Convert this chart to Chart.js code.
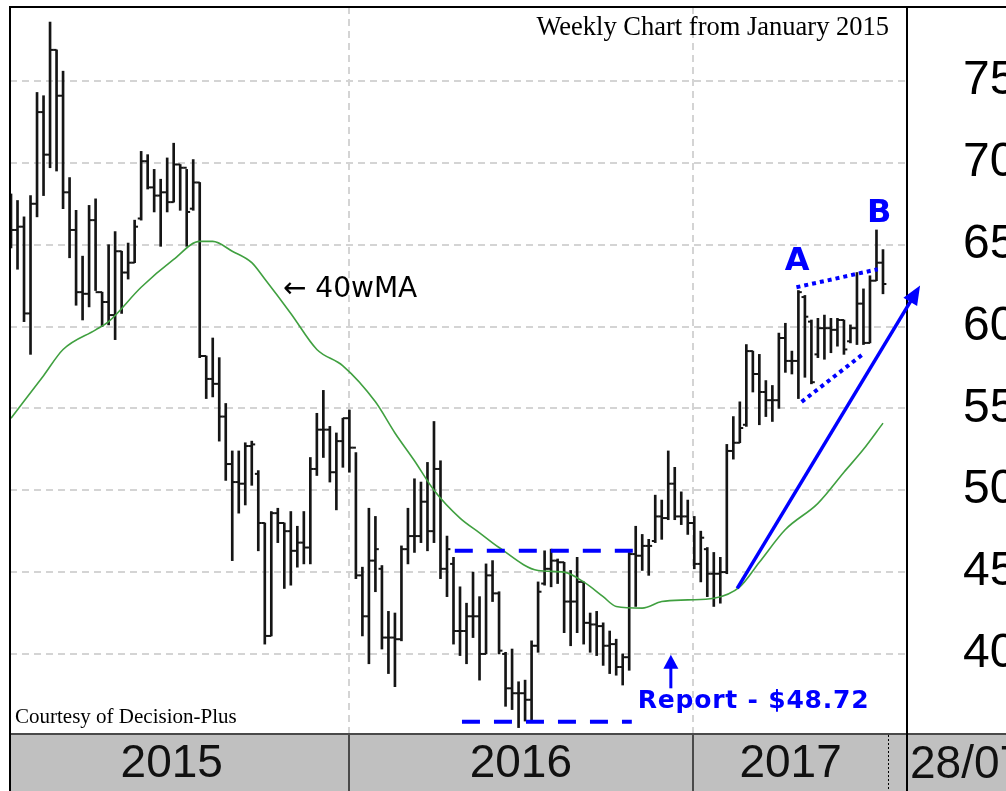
<!DOCTYPE html>
<html>
<head>
<meta charset="utf-8">
<script src="https://cdn.jsdelivr.net/npm/chart.js@4"></script>
<style>
  html, body { margin: 0; padding: 0; background: #fff; }
  #wrap { width: 1006px; height: 791px; }
</style>
</head>
<body>
<div id="wrap"><canvas id="chart" width="1006" height="791"></canvas></div>
<script>
// weekly bars, index 0 = first week shown (Jan 2015)
const highs = [
  68.1, 67.7, 66.7, 68.0, 74.3, 74.1, 78.6, 76.9, 75.6, 69.1,
  67.1, 64.3, 67.4, 67.8, 62.1, 65.0, 65.8, 64.6, 65.1, 66.5,
  70.7, 70.5, 69.6, 69.0, 70.3, 71.2, 69.9, 69.6, 70.2, 68.8,
  58.2, 59.3, 58.1, 55.3, 52.4, 52.4, 52.9, 53.0, 51.2, 48.0,
  48.7, 48.9, 48.0, 48.7, 47.8, 48.7, 52.0, 54.7, 56.1, 53.9,
  53.5, 54.4, 54.9, 52.3, 45.3, 48.9, 48.4, 45.4, 42.6, 42.5,
  46.6, 48.9, 50.7, 50.5, 51.7, 54.2, 51.8, 47.2, 45.9, 44.1,
  43.1, 45.0, 43.5, 45.5, 45.7, 43.8, 40.1, 40.3, 38.3, 38.4,
  40.8, 44.4, 46.3, 46.4, 45.8, 45.6, 45.1, 45.9, 44.4, 42.5,
  42.6, 41.9, 41.4, 40.9, 40.0, 46.2, 47.8, 47.3, 47.0, 49.7,
  49.4, 52.4, 51.4, 49.9, 49.4, 48.4, 47.5, 46.5, 46.2, 45.9,
  52.8, 54.5, 55.4, 58.9, 58.5, 58.3, 56.7, 56.4, 59.6, 60.2,
  58.5, 62.2, 61.9, 60.4, 60.5, 60.7, 60.5, 60.5, 60.4, 60.1,
  63.3, 62.3, 63.1, 65.9, 64.7
];
const lows = [
  64.8, 63.5, 60.3, 58.3, 66.7, 68.0, 69.7, 69.5, 67.2, 64.2,
  61.3, 60.4, 61.2, 62.2, 60.0, 60.1, 59.2, 60.8, 62.9, 63.9,
  66.5, 68.4, 67.0, 64.9, 67.0, 67.6, 67.1, 64.9, 67.1, 58.1,
  55.6, 55.7, 53.0, 50.6, 45.7, 48.6, 49.1, 50.3, 46.3, 40.6,
  41.1, 46.8, 44.0, 44.2, 45.3, 45.5, 45.5, 50.9, 52.0, 50.5,
  48.8, 51.4, 51.1, 44.6, 41.1, 39.4, 43.8, 40.3, 38.8, 38.0,
  40.8, 45.5, 46.2, 46.8, 46.3, 46.8, 44.6, 43.5, 40.6, 39.9,
  39.4, 41.0, 38.4, 40.0, 43.2, 40.0, 36.8, 36.6, 35.5, 35.9,
  35.9, 40.1, 44.2, 44.1, 44.3, 41.3, 40.5, 41.3, 40.6, 40.1,
  39.9, 39.3, 38.8, 38.7, 38.1, 39.0, 42.9, 45.1, 44.8, 46.8,
  47.0, 48.2, 48.2, 47.9, 47.3, 45.2, 44.4, 43.5, 42.9, 43.1,
  44.9, 51.9, 52.9, 53.9, 56.0, 54.0, 54.5, 54.2, 55.0, 57.2,
  57.1, 55.6, 56.9, 56.5, 58.1, 58.0, 58.4, 58.8, 58.3, 59.0,
  58.9, 58.9, 59.0, 62.8, 62.0
];
const opens = [
  67.9, 65.9, 66.1, 60.8, 67.5, 73.1, 70.5, 76.9, 74.1, 68.2,
  65.9, 62.1, 62.0, 66.5, 62.1, 61.5, 60.7, 64.6, 63.3, 63.9,
  66.6, 70.1, 68.5, 68.0, 68.2, 67.6, 69.9, 69.7, 67.2, 68.8,
  58.2, 56.8, 56.5, 54.5, 51.6, 50.5, 50.4, 52.7, 51.0, 48.0,
  41.1, 48.6, 48.0, 47.5, 46.3, 46.8, 46.5, 51.3, 53.7, 53.7,
  51.1, 53.0, 54.4, 52.6, 44.8, 42.3, 45.7, 45.2, 41.0, 41.0,
  40.9, 46.4, 47.2, 47.2, 49.3, 47.5, 51.3, 45.2, 45.5, 41.4,
  41.4, 42.3, 42.3, 40.0, 44.8, 43.7, 40.0, 37.9, 37.6, 37.6,
  37.2, 40.5, 44.3, 45.2, 45.7, 45.6, 43.2, 43.2, 44.4, 41.9,
  41.8, 41.7, 40.5, 40.6, 39.2, 39.8, 46.1, 46.0, 46.6, 46.9,
  48.4, 48.3, 50.4, 48.4, 48.4, 48.0, 45.5, 46.4, 44.9, 44.9,
  45.0, 52.4, 52.9, 54.0, 58.5, 57.1, 56.0, 55.5, 55.5, 59.3,
  57.9, 57.9, 61.8, 60.3, 58.3, 59.9, 59.9, 59.8, 60.4, 59.1,
  59.9, 61.4, 59.0, 62.8, 63.9
];
const closes = [
  65.9, 66.1, 60.8, 67.5, 73.1, 70.5, 76.9, 74.1, 68.2, 65.9,
  62.1, 62.0, 66.5, 62.1, 61.5, 60.7, 64.6, 63.3, 63.9, 66.1,
  70.1, 68.5, 68.0, 68.2, 67.6, 69.9, 69.7, 67.0, 68.8, 58.2,
  56.8, 56.5, 54.5, 51.6, 50.5, 50.4, 52.7, 52.8, 48.0, 41.1,
  48.6, 48.0, 47.5, 46.3, 46.8, 46.5, 51.3, 53.7, 53.7, 51.1,
  53.0, 54.4, 52.6, 44.8, 42.3, 45.7, 46.4, 41.0, 41.0, 40.9,
  46.4, 47.2, 47.2, 49.3, 47.5, 51.3, 45.2, 46.4, 41.4, 41.4,
  42.3, 42.3, 40.0, 44.8, 43.7, 40.2, 37.9, 37.6, 37.6, 37.2,
  40.5, 43.8, 45.2, 45.7, 45.6, 43.2, 43.2, 44.4, 41.9, 41.8,
  41.7, 40.5, 40.6, 39.2, 39.8, 46.1, 46.0, 46.6, 46.6, 48.4,
  48.3, 50.4, 48.4, 48.4, 48.0, 45.5, 47.1, 44.9, 44.9, 45.0,
  52.4, 52.9, 53.8, 58.5, 57.1, 56.0, 55.5, 55.5, 59.3, 57.9,
  57.9, 62.1, 60.6, 56.6, 59.9, 59.9, 59.8, 60.4, 58.6, 59.9,
  61.4, 59.0, 62.8, 63.9, 62.6
];

// 40 week moving average, read at some weeks
const maWeeks = [0, 5, 8, 13, 15, 20, 25, 29, 31, 34, 37, 39, 43, 47, 51, 56, 59, 62, 65,
  69, 72, 75, 81, 85, 88, 91, 93, 97, 100, 104, 108, 112, 115, 119, 124, 128, 131, 134];
const maValues = [54.4, 57.0, 58.6, 59.8, 60.3, 62.4, 64.1, 65.2, 65.2, 64.6, 63.9, 62.9, 60.8, 58.6, 57.6, 55.4, 53.5, 51.8, 50.0,
  48.3, 47.4, 46.5, 45.1, 45.0, 44.4, 43.5, 42.9, 42.8, 43.2, 43.3, 43.4, 44.1, 45.6, 47.6, 49.2, 51.1, 52.5, 54.1];

const priceTicks = [40, 45, 50, 55, 60, 65, 70, 75];
const yearLabels = ['2015', '2016', '2017'];
const yearSpans = [[-2.5, 51.9], [51.9, 104.8], [104.8, 134.8]];
const lastDate = '28/07';

// annotations, [week, price]
const rangeTop = [[68.2, 46.3], [95.9, 46.3]];
const rangeBottom = [[69.3, 35.85], [95.4, 35.85]];
const wedgeTop = [[120.7, 62.4], [133.2, 63.5]];
const wedgeBottom = [[121.5, 55.4], [131.2, 58.4]];
const trendArrow = [[111.6, 44.0], [139.7, 62.5]];
const reportArrow = [[101.4, 37.9], [101.4, 39.95]];
const markA = [120.8, 63.45];
const markB = [133.4, 66.4];
const maNote = [41.8, 61.8];
const reportNote = [96.3, 36.7];

const yearBreaks = yearSpans.slice(1).map(s => s[0]);
const yearLabelAt = yearSpans.map(s => (s[0] + s[1]) / 2);
const BLUE = '#0000ff';

function arrowTo(ctx, x1, y1, x2, y2, len, half) {
  const a = Math.atan2(y2 - y1, x2 - x1);
  const c = Math.cos(a), s = Math.sin(a);
  ctx.beginPath();
  ctx.moveTo(x1, y1);
  ctx.lineTo(x2 - c * len * 0.8, y2 - s * len * 0.8);
  ctx.stroke();
  ctx.beginPath();
  ctx.moveTo(x2, y2);
  ctx.lineTo(x2 - c * len + s * half, y2 - s * len - c * half);
  ctx.lineTo(x2 - c * len - s * half, y2 - s * len + c * half);
  ctx.closePath();
  ctx.fill();
}

const decor = {
  id: 'decor',
  beforeDraw(chart) {
    const { ctx, chartArea: a, width, height } = chart;
    ctx.save();
    ctx.fillStyle = '#fff';
    ctx.fillRect(0, 0, width, height);
    ctx.fillStyle = '#c0c0c0';
    ctx.fillRect(a.left, a.bottom, width - a.left, height - a.bottom);
    ctx.restore();
  },
  afterDraw(chart) {
    const { ctx, chartArea: a, width, height, scales: { x, y } } = chart;
    const px = v => x.getPixelForValue(v);
    const py = v => y.getPixelForValue(v);
    const seg = (pts) => {
      ctx.beginPath();
      ctx.moveTo(px(pts[0][0]), py(pts[0][1]));
      ctx.lineTo(px(pts[1][0]), py(pts[1][1]));
      ctx.stroke();
    };
    ctx.save();

    // date band
    ctx.strokeStyle = '#4a4a4a';
    ctx.lineWidth = 2;
    ctx.beginPath();
    ctx.moveTo(a.left, a.bottom + 1);
    ctx.lineTo(width, a.bottom + 1);
    ctx.stroke();
    yearBreaks.forEach(b => {
      const xx = Math.round(px(b));
      ctx.beginPath();
      ctx.moveTo(xx, a.bottom);
      ctx.lineTo(xx, height);
      ctx.stroke();
    });
    ctx.strokeStyle = '#000';
    ctx.lineWidth = 1;
    ctx.setLineDash([2, 2]);
    const xe = Math.round(px(yearSpans[2][1])) + 0.5;
    ctx.beginPath();
    ctx.moveTo(xe, a.bottom + 2);
    ctx.lineTo(xe, height);
    ctx.stroke();
    ctx.setLineDash([]);

    // frame
    ctx.lineWidth = 2;
    ctx.beginPath();
    ctx.moveTo(a.left, height);
    ctx.lineTo(a.left, a.top);
    ctx.lineTo(width, a.top);
    ctx.moveTo(a.right, a.top);
    ctx.lineTo(a.right, height);
    ctx.stroke();

    ctx.fillStyle = '#111';
    ctx.font = '46px "Liberation Sans"';
    ctx.textAlign = 'left';
    ctx.textBaseline = 'middle';
    ctx.fillText(lastDate, a.right + 3, a.bottom + 32);

    // captions
    ctx.fillStyle = '#000';
    ctx.textBaseline = 'alphabetic';
    ctx.font = '26.5px "Liberation Serif"';
    ctx.textAlign = 'right';
    ctx.fillText('Weekly Chart from January 2015', a.right - 18, a.top + 28);
    ctx.font = '21px "Liberation Serif"';
    ctx.textAlign = 'left';
    ctx.fillText('Courtesy of Decision-Plus', a.left + 5, a.bottom - 10);
    ctx.font = '28px "DejaVu Sans"';
    ctx.fillText('\u2190 40wMA', px(maNote[0]), py(maNote[1]));

    // blue markup
    ctx.strokeStyle = BLUE;
    ctx.fillStyle = BLUE;
    ctx.lineWidth = 4;
    ctx.setLineDash([18, 14]);
    seg(rangeTop);
    seg(rangeBottom);
    ctx.setLineDash([4, 4]);
    seg(wedgeTop);
    seg(wedgeBottom);
    ctx.setLineDash([]);
    ctx.lineWidth = 3.5;
    arrowTo(ctx, px(trendArrow[0][0]), py(trendArrow[0][1]), px(trendArrow[1][0]), py(trendArrow[1][1]), 19, 8);
    ctx.lineWidth = 3;
    arrowTo(ctx, px(reportArrow[0][0]), py(reportArrow[0][1]), px(reportArrow[1][0]), py(reportArrow[1][1]), 14, 7.5);

    ctx.font = 'bold 32px "DejaVu Sans"';
    ctx.textAlign = 'center';
    ctx.fillText('A', px(markA[0]), py(markA[1]));
    ctx.fillText('B', px(markB[0]), py(markB[1]));
    ctx.font = 'bold 25px "DejaVu Sans"';
    ctx.textAlign = 'left';
    ctx.letterSpacing = '0.8px';
    ctx.fillText('Report - $48.72', px(reportNote[0]), py(reportNote[1]));

    ctx.restore();
  }
};

const tickStyle = { showLine: false, pointStyle: 'dash', pointRadius: 3.4, pointBorderWidth: 2, pointBorderColor: '#151515', order: 1 };

new Chart(document.getElementById('chart'), {
  type: 'bar',
  data: {
    datasets: [
      {
        type: 'line',
        data: maWeeks.map((w, k) => ({ x: w, y: maValues[k] })),
        borderColor: '#40a040',
        borderWidth: 1.6,
        pointRadius: 0,
        cubicInterpolationMode: 'monotone',
        order: 0
      },
      {
        type: 'bar',
        data: highs.map((h, i) => ({ x: i, y: [lows[i], h] })),
        backgroundColor: '#151515',
        borderWidth: 0,
        barThickness: 2,
        order: 1
      },
      Object.assign({ type: 'line', data: opens.map((v, i) => ({ x: i, y: v })), pointRotation: 180 }, tickStyle),
      Object.assign({ type: 'line', data: closes.map((v, i) => ({ x: i, y: v })), pointRotation: 0 }, tickStyle)
    ]
  },
  options: {
    responsive: false,
    animation: false,
    events: [],
    layout: { padding: { left: 10, top: 7, right: 0, bottom: 0 } },
    plugins: { legend: { display: false }, tooltip: { enabled: false } },
    scales: {
      x: {
        type: 'linear',
        min: -0.154,
        max: 137.69,
        offset: false,
        afterBuildTicks: s => { s.ticks = yearBreaks.concat(yearLabelAt).map(v => ({ value: v })); },
        afterFit: s => { s.height = 58; s.paddingLeft = 0; s.paddingRight = 0; },
        grid: {
          offset: false,
          drawTicks: false,
          lineWidth: 2,
          color: c => (c.tick && yearBreaks.includes(c.tick.value)) ? '#d4d4d4' : 'rgba(0,0,0,0)'
        },
        border: { display: false, dash: [7, 5] },
        ticks: {
          autoSkip: false,
          maxRotation: 0,
          padding: 4,
          color: '#111',
          font: { family: 'Liberation Sans', size: 46 },
          callback: v => { const k = yearLabelAt.indexOf(v); return k < 0 ? '' : yearLabels[k]; }
        }
      },
      y: {
        position: 'right',
        min: 35.17,
        max: 79.52,
        afterBuildTicks: s => { s.ticks = priceTicks.map(v => ({ value: v })); },
        afterFit: s => { s.width = 99; s.paddingTop = 0; s.paddingBottom = 0; },
        grid: { drawTicks: false, lineWidth: 2, color: '#d4d4d4' },
        border: { display: false, dash: [7, 5] },
        ticks: { padding: 56, color: '#000', font: { family: 'Liberation Sans', size: 48 } }
      }
    }
  },
  plugins: [decor]
});
</script>
</body>
</html>
